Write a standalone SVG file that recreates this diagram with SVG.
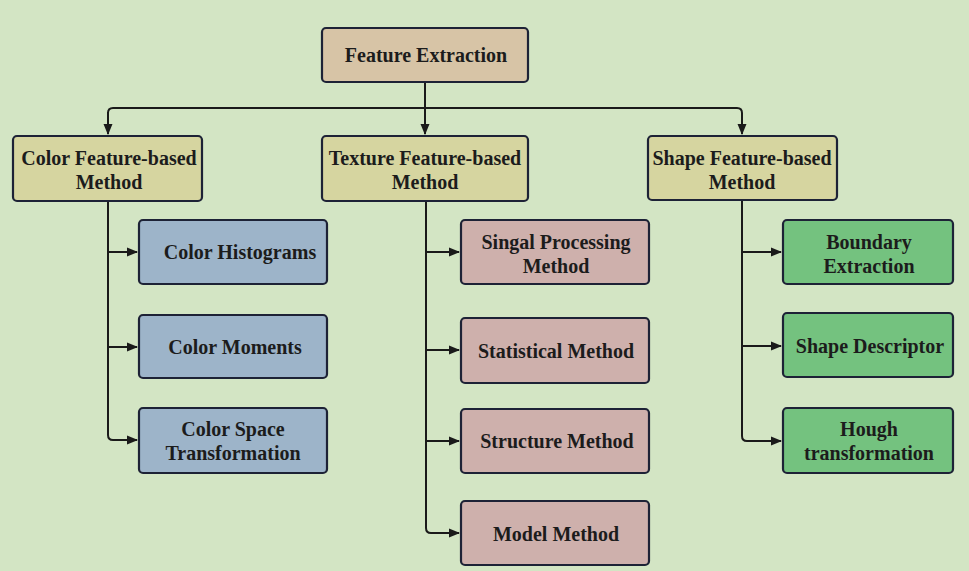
<svg xmlns="http://www.w3.org/2000/svg" width="969" height="571" viewBox="0 0 969 571">
<defs>
<marker id="ah" markerWidth="11" markerHeight="10" refX="10" refY="5" orient="auto" markerUnits="userSpaceOnUse">
<path d="M0,0.5 L11,5 L0,9.5 Z" fill="#1a1a1a"/>
</marker>
<style>
.box{stroke:#1d2236;stroke-width:2.2}
.root{fill:#d7c4a6}
.l2{fill:#d6d5a0}
.blue{fill:#9db4c9}
.pink{fill:#ceb0ac}
.green{fill:#74c27f}
text{font-family:"Liberation Serif","Times New Roman",serif;font-weight:bold;font-size:20px;fill:#1c1c1c;text-anchor:middle}
.ln{fill:none;stroke:#1a1a1a;stroke-width:2}
</style>
</defs>
<rect width="969" height="571" fill="#d3e5c4"/>
<g id="connectors">
<path class="ln" d="M425,82 V134"/>
<path class="ln" d="M108,134 V113 Q108,108 113,108 H737 Q742,108 742,113 V134" marker-end="url(#ah)"/>
<path class="ln" d="M108,112 V134" marker-end="url(#ah)"/>
<path class="ln" d="M425,108 V134" marker-end="url(#ah)"/>
<path class="ln" d="M108,201 V435 Q108,440 113,440 H137" marker-end="url(#ah)"/>
<path class="ln" d="M108,252 H137" marker-end="url(#ah)"/>
<path class="ln" d="M108,347 H137" marker-end="url(#ah)"/>
<path class="ln" d="M426,201 V528 Q426,533 431,533 H459" marker-end="url(#ah)"/>
<path class="ln" d="M426,252 H459" marker-end="url(#ah)"/>
<path class="ln" d="M426,350 H459" marker-end="url(#ah)"/>
<path class="ln" d="M426,441 H459" marker-end="url(#ah)"/>
<path class="ln" d="M742,200 V436 Q742,441 747,441 H781" marker-end="url(#ah)"/>
<path class="ln" d="M742,252 H781" marker-end="url(#ah)"/>
<path class="ln" d="M742,346 H781" marker-end="url(#ah)"/>
</g>
<g id="feature-extraction"><rect class="box root" x="322" y="28" width="206" height="54" rx="4"/><text x="426" y="62">Feature Extraction</text></g>
<g id="color-method"><rect class="box l2" x="13" y="136" width="189" height="65" rx="4"/><text x="109" y="165">Color Feature-based</text><text x="109" y="189">Method</text></g>
<g id="texture-method"><rect class="box l2" x="322" y="136" width="206" height="65" rx="4"/><text x="425" y="165">Texture Feature-based</text><text x="425" y="189">Method</text></g>
<g id="shape-method"><rect class="box l2" x="648" y="136" width="189" height="64" rx="4"/><text x="742" y="165">Shape Feature-based</text><text x="742" y="189">Method</text></g>
<g id="color-histograms"><rect class="box blue" x="139" y="220" width="188" height="64" rx="4"/><text x="240" y="259">Color Histograms</text></g>
<g id="color-moments"><rect class="box blue" x="139" y="315" width="188" height="63" rx="4"/><text x="235" y="354">Color Moments</text></g>
<g id="color-space"><rect class="box blue" x="139" y="408" width="188" height="65" rx="4"/><text x="233" y="436">Color Space</text><text x="233" y="460">Transformation</text></g>
<g id="signal-processing"><rect class="box pink" x="461" y="220" width="188" height="64" rx="4"/><text x="556" y="249">Singal Processing</text><text x="556" y="273">Method</text></g>
<g id="statistical"><rect class="box pink" x="461" y="318" width="188" height="65" rx="4"/><text x="556" y="358">Statistical Method</text></g>
<g id="structure"><rect class="box pink" x="461" y="409" width="188" height="64" rx="4"/><text x="557" y="448">Structure Method</text></g>
<g id="model"><rect class="box pink" x="461" y="501" width="188" height="64" rx="4"/><text x="556" y="541">Model Method</text></g>
<g id="boundary"><rect class="box green" x="783" y="220" width="170" height="64" rx="4"/><text x="869" y="249">Boundary</text><text x="869" y="273">Extraction</text></g>
<g id="shape-descriptor"><rect class="box green" x="783" y="313" width="170" height="64" rx="4"/><text x="870" y="353">Shape Descriptor</text></g>
<g id="hough"><rect class="box green" x="783" y="408" width="170" height="65" rx="4"/><text x="869" y="436">Hough</text><text x="869" y="460">transformation</text></g>
</svg>
